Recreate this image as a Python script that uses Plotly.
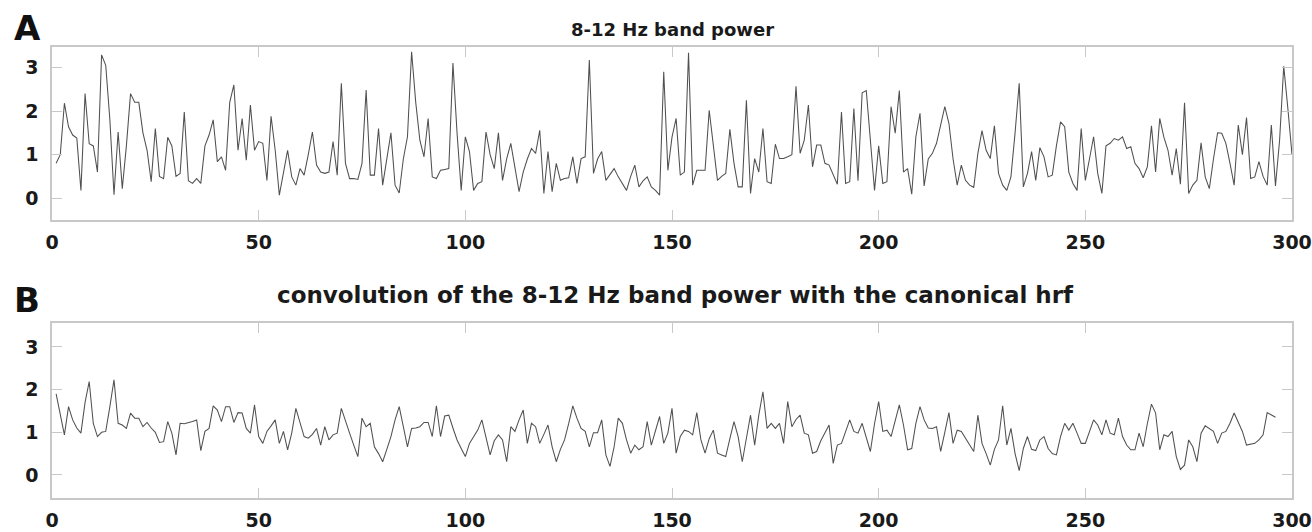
import plotly.graph_objects as go

# Panel A: 8-12 Hz band power, samples 1..300
band_power = [
    0.8, 1.0, 2.18, 1.64, 1.45, 1.38, 0.18, 2.4, 1.25, 1.2,
    0.6, 3.29, 3.05, 1.8, 0.08, 1.52, 0.22, 1.2, 2.4, 2.2,
    2.2, 1.5, 1.1, 0.38, 1.6, 0.5, 0.45, 1.4, 1.2, 0.5,
    0.57, 1.98, 0.4, 0.34, 0.45, 0.34, 1.2, 1.45, 1.8, 0.84,
    0.95, 0.64, 2.2, 2.6, 1.1, 1.83, 0.87, 2.14, 1.1, 1.3,
    1.26, 0.41, 1.88, 1.1, 0.07, 0.6, 1.1, 0.49, 0.3, 0.68,
    0.53, 1.0, 1.52, 0.76, 0.6, 0.57, 0.6, 1.3, 0.53, 2.64,
    0.8, 0.45, 0.45, 0.43, 0.8, 2.48, 0.53, 0.53, 1.6, 0.3,
    0.9, 1.5, 0.3, 0.12, 0.9, 1.41, 3.36, 2.2, 1.33, 0.95,
    1.83, 0.49, 0.45, 0.64, 0.66, 0.68, 3.1, 1.49, 0.18, 1.41,
    1.07, 0.18, 0.34, 0.38, 1.52, 1.0, 0.68, 1.5, 0.41, 0.9,
    1.26, 0.7, 0.15, 0.6, 0.9, 1.14, 1.03, 1.56, 0.11, 1.07,
    0.15, 0.8, 0.41, 0.45, 0.47, 0.95, 0.34, 0.91, 0.95, 3.17,
    0.57, 0.9, 1.07, 0.41, 0.55, 0.68, 0.49, 0.35, 0.18, 0.5,
    0.76, 0.26, 0.4, 0.49, 0.26, 0.18, 0.07, 2.9, 0.64, 1.4,
    1.83, 0.53, 0.6, 3.34, 0.3, 0.64, 0.64, 0.64, 2.02, 1.2,
    0.41, 0.5, 0.57, 1.58, 0.8, 0.26, 0.26, 2.25, 0.11, 0.91,
    0.6, 1.6, 0.38, 0.34, 1.24, 0.91, 0.91, 0.95, 1.0, 2.57,
    1.03, 1.33, 2.14, 0.72, 1.22, 1.22, 0.8, 0.76, 0.53, 0.32,
    1.98, 0.34, 0.38, 2.06, 0.4, 2.42, 2.47, 1.3, 0.18, 1.2,
    0.34, 0.38, 2.1, 1.49, 2.47, 0.6, 0.68, 0.09, 1.41, 1.95,
    0.28, 0.9, 1.03, 1.26, 1.7, 2.1, 1.72, 0.9, 0.3, 0.76,
    0.41, 0.3, 0.25, 1.03, 1.55, 1.1, 0.91, 1.66, 0.57, 0.3,
    0.18, 0.49, 1.5, 2.64, 0.26, 0.57, 1.07, 0.41, 1.16, 0.95,
    0.49, 0.53, 1.2, 1.75, 1.64, 0.6, 0.34, 0.18, 1.6, 0.41,
    0.9, 1.41, 0.57, 0.11, 1.2, 1.26, 1.37, 1.33, 1.41, 1.14,
    1.18, 0.8, 0.68, 0.47, 0.72, 1.66, 0.6, 1.83, 1.4, 1.1,
    0.53, 1.14, 0.32, 2.19, 0.11, 0.3, 0.41, 1.27, 0.49, 0.22,
    0.9, 1.5, 1.49, 1.26, 0.8, 0.3, 1.68, 1.0, 1.85, 0.45,
    0.49, 0.84, 0.5, 0.3, 1.68, 0.28, 1.33, 3.03, 2.06, 1.0,
]

# Panel B: convolution with canonical hrf, samples 1..296
convolved = [
    1.9, 1.45, 0.94, 1.6, 1.29, 1.1, 0.98, 1.7, 2.19, 1.2,
    0.9, 1.0, 1.02, 1.6, 2.23, 1.21, 1.17, 1.09, 1.45, 1.33,
    1.33, 1.13, 1.23, 1.1, 1.0, 0.76, 0.78, 1.25, 0.98, 0.47,
    1.21, 1.2, 1.22, 1.25, 1.29, 0.57, 1.02, 1.09, 1.62, 1.52,
    1.25, 1.6, 1.6, 1.23, 1.46, 1.45, 1.09, 0.98, 1.64, 0.9,
    0.74, 1.02, 1.15, 1.29, 0.74, 1.02, 0.59, 0.98, 1.56, 1.21,
    0.9, 0.86, 0.95, 1.09, 0.7, 1.13, 0.82, 0.94, 0.98, 1.56,
    1.25, 0.98, 0.7, 0.43, 1.33, 1.13, 1.21, 0.66, 0.5, 0.31,
    0.6, 0.9, 1.29, 1.6, 1.13, 0.66, 1.09, 1.1, 1.13, 1.23,
    1.23, 0.9, 1.62, 0.9, 1.38, 1.4, 1.1, 0.82, 0.62, 0.43,
    0.74, 0.9, 1.05, 1.29, 0.9, 0.47, 0.8, 0.94, 0.82, 0.31,
    1.13, 1.02, 1.29, 1.52, 0.74, 1.21, 1.13, 0.74, 0.95, 1.17,
    0.66, 0.31, 0.6, 0.82, 1.2, 1.62, 1.33, 1.09, 1.02, 0.66,
    0.99, 0.99, 1.29, 0.47, 0.2, 0.66, 1.33, 1.21, 0.82, 0.51,
    0.7, 0.59, 0.66, 1.25, 0.7, 1.05, 1.37, 0.74, 0.98, 1.56,
    0.51, 0.9, 1.05, 1.02, 0.94, 1.46, 0.82, 0.51, 0.85, 1.05,
    0.51, 0.47, 0.43, 0.85, 1.25, 0.9, 0.31, 0.86, 1.4, 0.7,
    1.4, 1.95, 1.09, 1.21, 1.09, 1.21, 0.74, 1.72, 1.13, 1.3,
    1.4, 0.98, 0.94, 0.51, 0.55, 0.8, 0.98, 1.17, 0.27, 0.7,
    0.74, 1.02, 1.29, 1.02, 0.98, 1.21, 0.9, 0.55, 1.2, 1.72,
    1.02, 1.05, 0.9, 1.25, 1.64, 1.17, 0.59, 0.62, 1.21, 1.6,
    1.29, 1.1, 1.09, 1.13, 0.55, 1.0, 1.46, 0.74, 1.05, 1.02,
    0.86, 0.7, 0.55, 1.4, 0.74, 0.5, 0.23, 0.6, 0.82, 1.62,
    0.7, 1.09, 0.5, 0.1, 0.62, 0.9, 0.6, 0.57, 0.82, 0.9,
    0.62, 0.5, 0.47, 0.9, 1.21, 1.05, 1.21, 0.98, 0.74, 0.74,
    1.0, 1.29, 1.17, 0.94, 1.29, 0.98, 0.94, 1.33, 0.9, 0.7,
    0.59, 0.59, 0.98, 0.66, 1.2, 1.66, 1.45, 0.59, 0.94, 0.9,
    1.02, 0.43, 0.13, 0.23, 0.82, 0.66, 0.31, 0.98, 1.15, 1.09,
    1.02, 0.74, 0.98, 1.02, 1.21, 1.45, 1.25, 1.02, 0.7, 0.72,
    0.74, 0.82, 0.94, 1.46, 1.4, 1.35,
]

x_ticks = [0, 50, 100, 150, 200, 250, 300]
y_ticks = [0, 1, 2, 3]
title_a = "8-12 Hz band power"
title_b = "convolution of the 8-12 Hz band power with the canonical hrf"

FONT = "DejaVu Sans, Liberation Sans, Arial, sans-serif"
line_color = "#505050"
frame_color = "#c8c8c8"

W, H = 1312, 532
ML, MR, MT, MB = 52, 20, 47, 34
plot_w = W - ML - MR
plot_h = H - MT - MB


def px_to_paper(px, py):
    return (px - ML) / plot_w, (H - MB - py) / plot_h


fig = go.Figure()
fig.add_trace(go.Scatter(x=list(range(1, len(band_power) + 1)), y=band_power,
                         mode="lines", line=dict(color=line_color, width=1.05),
                         xaxis="x", yaxis="y", showlegend=False))
fig.add_trace(go.Scatter(x=list(range(1, len(convolved) + 1)), y=convolved,
                         mode="lines", line=dict(color=line_color, width=1.05),
                         xaxis="x2", yaxis="y2", showlegend=False))

axis_common = dict(
    showgrid=False, zeroline=False, showline=True, linecolor=frame_color,
    linewidth=1.5, mirror="ticks", ticks="inside", ticklen=10,
    tickcolor=frame_color, tickwidth=1.2, automargin=False,
    ticklabeloverflow="allow",
    tickfont=dict(family=FONT, size=19, color="#1a1a1a", weight="bold"),
)

yA0, yA1 = (H - MB - 220) / plot_h, 1.0
yB0, yB1 = 0.0, (H - MB - 323) / plot_h

fig.update_layout(
    width=W, height=H,
    margin=dict(l=ML, r=MR, t=MT, b=MB),
    paper_bgcolor="white", plot_bgcolor="white",
    xaxis=dict(domain=[0, 1], range=[0, 300], tickvals=x_ticks, anchor="y",
               ticklabelstandoff=4, **axis_common),
    yaxis=dict(domain=[yA0, yA1], range=[-0.5, 3.47], tickvals=y_ticks, anchor="x",
               ticklabelstandoff=8, **axis_common),
    xaxis2=dict(domain=[0, 1], range=[0, 300], tickvals=x_ticks, anchor="y2",
                ticklabelstandoff=4, **axis_common),
    yaxis2=dict(domain=[yB0, yB1], range=[-0.54, 3.56], tickvals=y_ticks, anchor="x2",
                ticklabelstandoff=8, **axis_common),
)

title_font_a = dict(family=FONT, size=18, color="#1a1a1a", weight="bold")
title_font_b = dict(family=FONT, size=23, color="#1a1a1a", weight="bold")
letter_font = dict(family=FONT, size=34, color="#111111", weight="bold")

annotations = []
for text, (px, py), font, xanchor in [
    (title_a, (672, 29), title_font_a, "center"),
    (title_b, (675, 295), title_font_b, "center"),
    ("A", (12, 28), letter_font, "left"),
    ("B", (12, 300), letter_font, "left"),
]:
    xp, yp = px_to_paper(px, py)
    annotations.append(dict(text=text, x=xp, y=yp, xref="paper", yref="paper",
                            xanchor=xanchor, yanchor="middle", showarrow=False,
                            font=font))
fig.update_layout(annotations=annotations)

fig.write_html("out.html", config={"displayModeBar": False},
               post_script="document.body.style.margin='0';document.body.style.overflow='hidden';")
